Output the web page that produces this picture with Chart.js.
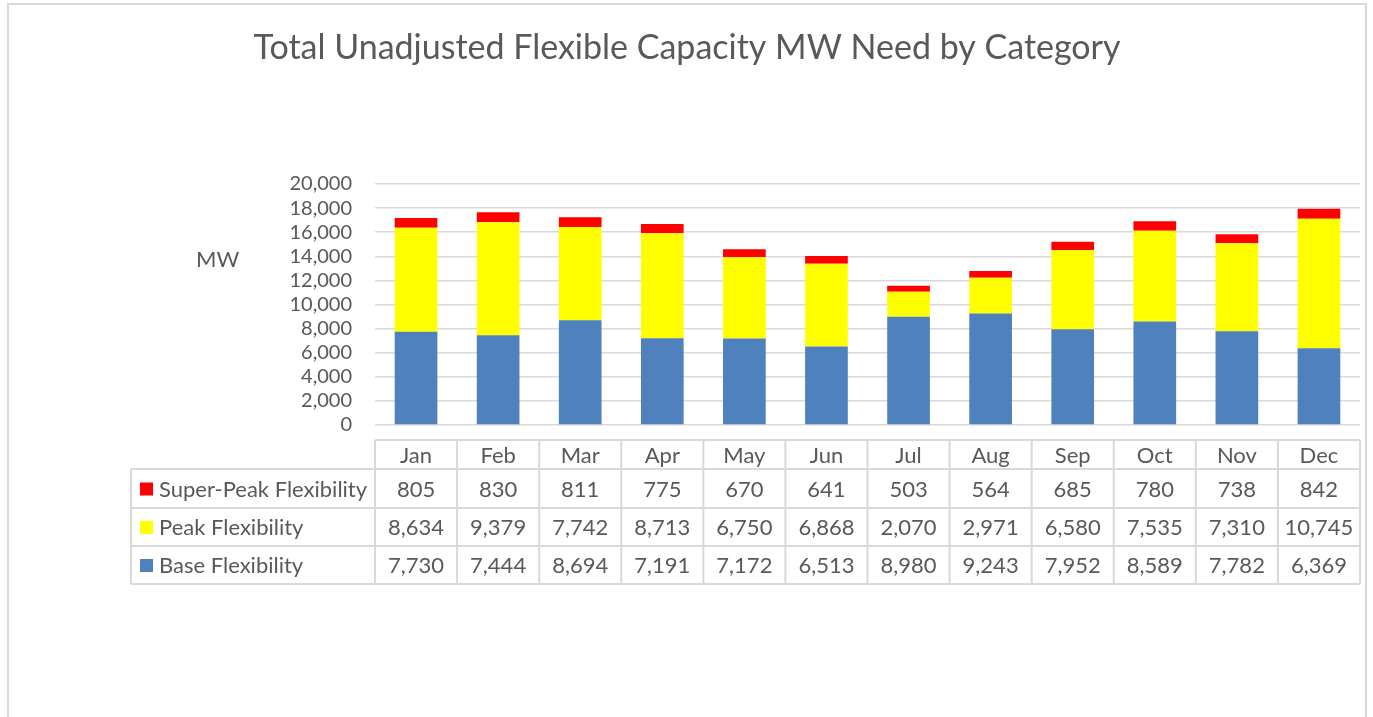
<!DOCTYPE html>
<html>
<head>
<meta charset="utf-8">
<script src="https://cdn.jsdelivr.net/npm/chart.js@4/dist/chart.umd.min.js"></script>
<style>
html,body{margin:0;padding:0;background:#fff;}
#wrap{position:relative;width:1373px;height:717px;}
</style>
</head>
<body>
<div id="wrap"><canvas id="c" width="1373" height="717"></canvas></div>
<script>
const months = ["Jan","Feb","Mar","Apr","May","Jun","Jul","Aug","Sep","Oct","Nov","Dec"];
const baseFlex = [7730,7444,8694,7191,7172,6513,8980,9243,7952,8589,7782,6369];
const peakFlex = [8634,9379,7742,8713,6750,6868,2070,2971,6580,7535,7310,10745];
const superPeakFlex = [805,830,811,775,670,641,503,564,685,780,738,842];
const seriesNames = ["Super-Peak Flexibility","Peak Flexibility","Base Flexibility"];
const yTicksMax = 20000, yTickStep = 2000;
const titleText = "Total Unadjusted Flexible Capacity MW Need by Category";
const yAxisLabel = "MW";

const FONT = "Lato, 'Open Sans', sans-serif";
const TXT = "#595959";
const GRID = "#d9d9d9";
const colors = {base:"#4f81bd", peak:"#ffff00", sp:"#ff0000"};

const fmt = v => v.toLocaleString("en-US");

const tablePlugin = {
  id: "tablePlugin",
  afterDraw(chart) {
    const ctx = chart.ctx;
    const xs = chart.scales.x;
    const area = chart.chartArea;
    const catW = (area.right - area.left) / months.length;
    ctx.save();
    // outer border
    ctx.strokeStyle = GRID; ctx.lineWidth = 2;
    ctx.beginPath();
    ctx.moveTo(8, 730); ctx.lineTo(8, 4); ctx.lineTo(1366, 4); ctx.lineTo(1366, 730);
    ctx.stroke();
    // title
    ctx.fillStyle = TXT;
    ctx.font = "34px " + FONT;
    ctx.textAlign = "center"; ctx.textBaseline = "middle";
    ctx.fillText(titleText, 687, 48);
    // MW label
    ctx.font = "22px " + FONT;
    ctx.textAlign = "left";
    ctx.fillText(yAxisLabel, 196, 260);
    // table
    const rowsY = [440, 469, 508, 546, 584];
    const legL = 131;
    ctx.strokeStyle = GRID; ctx.lineWidth = 2;
    ctx.beginPath();
    ctx.moveTo(area.left, rowsY[0]); ctx.lineTo(area.right, rowsY[0]);
    for (let r = 1; r < rowsY.length; r++) {
      ctx.moveTo(legL, rowsY[r]); ctx.lineTo(area.right, rowsY[r]);
    }
    ctx.moveTo(legL, rowsY[1]); ctx.lineTo(legL, rowsY[4]);
    for (let i = 0; i <= months.length; i++) {
      const x = area.left + i * catW;
      ctx.moveTo(x, rowsY[0]); ctx.lineTo(x, rowsY[4]);
    }
    ctx.stroke();
    ctx.fillStyle = TXT;
    ctx.textAlign = "center";
    const rowData = [superPeakFlex, peakFlex, baseFlex];
    const rowCols = [colors.sp, colors.peak, colors.base];
    months.forEach((m, i) => {
      const cx = xs.getPixelForValue(i);
      ctx.font = "22px " + FONT;
      ctx.fillText(m, cx, (rowsY[0] + rowsY[1]) / 2 + 1);
      ctx.font = "22px " + FONT;
      rowData.forEach((arr, r) => {
        ctx.fillText(fmt(arr[i]), cx, (rowsY[r+1] + rowsY[r+2]) / 2 + 1);
      });
    });
    ctx.textAlign = "left";
    ctx.font = "22px " + FONT;
    seriesNames.forEach((n, r) => {
      const cy = (rowsY[r+1] + rowsY[r+2]) / 2;
      ctx.fillStyle = rowCols[r];
      ctx.fillRect(140, cy - 6, 13, 13);
      ctx.fillStyle = TXT;
      ctx.fillText(n, 159, cy + 1);
    });
    ctx.restore();
  }
};

new Chart(document.getElementById("c"), {
  type: "bar",
  data: {
    labels: months,
    datasets: [
      {label: seriesNames[2], data: baseFlex, backgroundColor: colors.base},
      {label: seriesNames[1], data: peakFlex, backgroundColor: colors.peak},
      {label: seriesNames[0], data: superPeakFlex, backgroundColor: colors.sp}
    ]
  },
  options: {
    responsive: false,
    animation: false,
    layout: {padding: {left: 0, right: 13, top: 184, bottom: 292}},
    datasets: {bar: {categoryPercentage: 1, barPercentage: 0.52}},
    plugins: {legend: {display: false}, title: {display: false}, tooltip: {enabled: false}},
    scales: {
      x: {stacked: true, display: false},
      y: {
        stacked: true, min: 0, max: yTicksMax,
        afterFit(s) { s.width = 375; },
        ticks: {stepSize: yTickStep, autoSkip: false, color: TXT, font: {family: FONT, size: 20}, padding: 23, callback: v => fmt(v)},
        grid: {color: GRID, lineWidth: 1.5, drawTicks: false},
        border: {display: false}
      }
    }
  },
  plugins: [tablePlugin]
});
</script>
</body>
</html>
